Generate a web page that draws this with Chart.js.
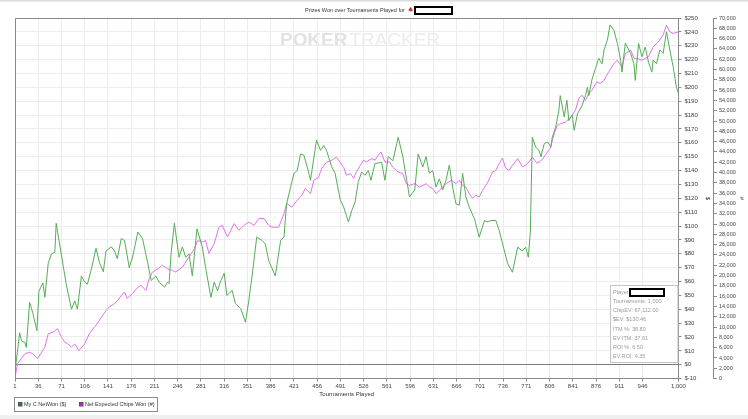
<!DOCTYPE html>
<html>
<head>
<meta charset="utf-8">
<script src="https://cdn.jsdelivr.net/npm/chart.js@4.4.1/dist/chart.umd.min.js"></script>
<style>
  html, body { margin: 0; padding: 0; background: #fff; }
  #wrap { width: 748px; height: 419px; position: relative; }
</style>
</head>
<body>
<div id="wrap"><canvas id="chart"></canvas></div>
<script>
// tournament numbers and values
const xTicks = [1, 36, 71, 106, 141, 176, 211, 246, 281, 316, 351, 386, 421, 456, 491, 526, 561, 596, 631, 666, 701, 736, 771, 806, 841, 876, 911, 946, 1000];

const netWonT = [1, 8, 11, 16, 18, 23, 28, 34, 37, 43, 46, 51, 56, 61, 63, 78, 86, 91, 95, 101, 106, 110, 116, 123, 128, 134, 138, 146, 151, 155, 161, 166, 173, 178, 186, 193, 201, 206, 213, 218, 226, 231, 233, 236, 241, 248, 253, 258, 263, 268, 275, 283, 288, 296, 301, 306, 311, 316, 320, 328, 333, 341, 348, 353, 358, 365, 373, 378, 383, 393, 401, 406, 410, 416, 421, 426, 431, 436, 441, 446, 455, 461, 466, 470, 478, 483, 491, 496, 503, 508, 513, 518, 523, 528, 533, 537, 543, 553, 558, 563, 570, 578, 585, 595, 603, 608, 615, 620, 625, 630, 635, 640, 645, 650, 655, 660, 665, 670, 675, 680, 685, 693, 700, 708, 712, 718, 725, 730, 738, 743, 750, 758, 765, 770, 774, 777, 780, 785, 790, 793, 798, 803, 808, 810, 815, 820, 822, 828, 832, 835, 840, 843, 848, 855, 860, 863, 865, 870, 875, 880, 885, 888, 893, 897, 903, 908, 913, 915, 920, 928, 933, 935, 940, 945, 950, 955, 960, 962, 967, 972, 977, 982, 987, 992, 997, 1000];
const netWonV = [-5, 23, 17, 16, 12.5, 45, 37, 24.5, 53, 59, 48.6, 73, 80, 81, 102, 58.5, 40, 46, 40, 64, 59.5, 58, 69, 84, 74, 67, 82, 85, 82, 76.5, 91, 89.6, 70, 77.5, 95.6, 91, 73, 60.7, 64, 59.5, 56, 59.5, 58.5, 80, 102, 77.5, 85, 77.5, 80, 64, 98, 85, 70, 48.6, 59.5, 53.5, 60.7, 66, 50, 53.5, 44, 40.5, 30.6, 46, 64, 92, 89.6, 87, 75, 64, 89.6, 92, 116, 128, 138, 140, 152, 151, 142.6, 133, 162, 154.6, 158, 154.6, 142.6, 138, 118.5, 113.6, 103, 111, 117, 132, 139, 136.6, 140, 133, 145, 146, 133, 150, 147, 164, 150, 121, 126, 152, 142.6, 150, 138, 140, 128, 134, 126, 133, 144, 128, 116, 115, 138, 121, 113.6, 105, 92, 104, 103, 104, 104, 97, 82, 72.8, 66.7, 84.8, 82, 84.8, 77.5, 95.6, 164, 157, 154.6, 150, 159.5, 160.6, 157, 164, 171, 183.5, 194, 178.7, 190.7, 176, 180, 169, 181, 187, 194, 200, 194, 206, 213.6, 221, 217, 227, 234, 245, 241, 231.7, 219.6, 211, 232, 224.5, 217, 205, 231.7, 222, 229, 218, 211, 219.6, 217, 227, 224.5, 240, 227, 215, 200, 196];

const chipsT = [1, 5, 16, 23, 28, 35, 46, 51, 58, 65, 71, 76, 80, 86, 91, 97, 106, 113, 125, 131, 138, 143, 151, 156, 161, 166, 170, 178, 186, 191, 198, 203, 208, 216, 223, 231, 238, 243, 253, 263, 271, 276, 283, 288, 293, 301, 308, 313, 321, 326, 331, 338, 346, 353, 361, 368, 376, 383, 388, 398, 406, 410, 418, 426, 433, 438, 446, 451, 458, 463, 470, 478, 485, 496, 500, 506, 511, 515, 521, 526, 530, 538, 543, 548, 552, 558, 565, 570, 578, 585, 590, 595, 603, 610, 615, 620, 625, 630, 635, 640, 645, 650, 658, 665, 670, 675, 680, 685, 690, 695, 700, 705, 713, 720, 725, 730, 735, 740, 745, 750, 758, 765, 770, 775, 780, 787, 795, 800, 807, 813, 818, 823, 830, 838, 845, 850, 855, 860, 865, 870, 877, 882, 888, 895, 903, 908, 915, 920, 928, 933, 938, 945, 950, 955, 962, 970, 977, 982, 987, 992, 1000];
const chipsV = [250, 2900, 4860, 5100, 4800, 3900, 6100, 8700, 9000, 9700, 8000, 7060, 6800, 6100, 6750, 5440, 6750, 8750, 10700, 11900, 13200, 13900, 14600, 15200, 16100, 16800, 15550, 16500, 17750, 18100, 17100, 19400, 20700, 21300, 22000, 21300, 21000, 20700, 21600, 23600, 25200, 26800, 26500, 26800, 24300, 26200, 29400, 29750, 27500, 28800, 30100, 28800, 29750, 30400, 29750, 31050, 31100, 29750, 29400, 29400, 32000, 34000, 33300, 34600, 35600, 36900, 35900, 38500, 39100, 40800, 42000, 42400, 43000, 41000, 39500, 39800, 38900, 40100, 41400, 42400, 42050, 42700, 42400, 43350, 44000, 42050, 42050, 41000, 40100, 39800, 37850, 37500, 37850, 37200, 37500, 37850, 37200, 36900, 35900, 36500, 37200, 37850, 38500, 37850, 38500, 37500, 37200, 35900, 35000, 35600, 35250, 36500, 38150, 40100, 40400, 41700, 42800, 40800, 40400, 41400, 42700, 41100, 41400, 42050, 43000, 41800, 42500, 43500, 44700, 47600, 49200, 49500, 49800, 50800, 52100, 54400, 55000, 54000, 55350, 56000, 57600, 57300, 57900, 59550, 61200, 61800, 60500, 63100, 63800, 62200, 62150, 61800, 62150, 62500, 64400, 65400, 66700, 68600, 67300, 67000, 67300];

const statLines = ['Tournaments: 1,000', 'ChipEV: 67,112.00', '$EV: $130.46', 'ITM %: 38.80', 'EV ITM: 37.61', 'ROI %: 6.50', 'EV ROI: 4.35'];

const FONT = "'Liberation Sans', Arial, sans-serif";
const GRID = '#ececec';
const AXIS = '#8a8a8a';

function toPoints(ts, vs) {
    return ts.map((t, i) => ({ x: t, y: vs[i] }));
}

// page furniture: title, frame, watermark, stats box, legend
const decor = {
    id: 'decor',
    beforeDraw(chart) {
        const c = chart.ctx;
        c.save();
        c.fillStyle = '#fff';
        c.fillRect(0, 0, chart.width, chart.height);
        c.fillStyle = '#dcdcdc';
        c.fillRect(0, 0, chart.width, 1.5);
        c.fillStyle = '#efefef';
        c.fillRect(0, chart.height - 4, chart.width, 4);

        // title
        c.font = '5.5px ' + FONT;
        c.fillStyle = '#333';
        c.textBaseline = 'middle';
        const title = 'Prizes Won over Tournaments Played for';
        c.fillText(title, 305, 10.5);
        c.fillStyle = '#d8302a';
        c.font = '7px "DejaVu Sans"';
        c.fillText('\u2660', 407.5, 10.5);
        c.fillStyle = '#fff';
        c.fillRect(414, 6, 38, 8);
        c.strokeStyle = '#000';
        c.lineWidth = 2;
        c.strokeRect(415, 7, 37, 7);

        // watermark
        c.textBaseline = 'middle';
        c.font = 'bold 18px ' + FONT;
        const pw = c.measureText('POKER').width;
        c.font = '18px ' + FONT;
        const tw = c.measureText('TRACKER').width;
        const sx = 160 / (pw + tw + 2);
        c.translate(280, 41);
        c.scale(sx, 1);
        c.font = 'bold 18px ' + FONT;
        c.fillStyle = '#e2e2e2';
        c.fillText('POKER', 0, 0);
        c.font = '18px ' + FONT;
        c.fillStyle = '#ececec';
        c.fillText('TRACKER', pw + 2, 0);
        c.restore();
    },
    afterDraw(chart) {
        const c = chart.ctx;
        const a = chart.chartArea;
        c.save();
        // frame top and left
        c.strokeStyle = AXIS;
        c.lineWidth = 1;
        c.beginPath();
        c.moveTo(a.left + 0.5, a.bottom);
        c.lineTo(a.left + 0.5, a.top + 0.5);
        c.lineTo(a.right, a.top + 0.5);
        c.stroke();

        // stats box
        const bx = 610.5, by = 285.5, bw = a.right - 611, bh = 77;
        c.fillStyle = '#fff';
        c.fillRect(bx, by, bw, bh);
        c.strokeStyle = '#c4c4c4';
        c.strokeRect(bx, by, bw, bh);
        c.font = '5.5px ' + FONT;
        c.fillStyle = '#9a9a9a';
        c.textBaseline = 'middle';
        c.fillText('Player:', 613, 292);
        c.fillStyle = '#fff';
        c.fillRect(629, 288, 36, 9);
        c.strokeStyle = '#000';
        c.lineWidth = 2;
        c.strokeRect(630, 289, 34, 7);
        c.fillStyle = '#9a9a9a';
        statLines.forEach((s, i) => c.fillText(s, 613, 301.5 + i * 9.2));

        // legend
        c.lineWidth = 1;
        c.strokeStyle = '#8c8c8c';
        c.strokeRect(14.5, 397.5, 143, 14);
        const items = [
            { x: 18, fill: '#1b8c1b', text: chart.data.datasets[0].label },
            { x: 79, fill: '#d01cd0', text: chart.data.datasets[1].label }
        ];
        c.font = '5.5px ' + FONT;
        items.forEach(it => {
            c.fillStyle = it.fill;
            c.fillRect(it.x, 402, 4, 4);
            c.strokeStyle = '#555';
            c.strokeRect(it.x + 0.5, 402.5, 3.5, 3.5);
            c.fillStyle = '#333';
            c.fillText(it.text, it.x + 6, 404.5);
        });
        c.restore();
    }
};

new Chart(document.getElementById('chart'), {
    type: 'line',
    data: {
        datasets: [
            {
                label: 'My C NetWon ($)',
                data: toPoints(netWonT, netWonV),
                yAxisID: 'y',
                borderColor: '#55ad55',
                borderWidth: 1,
                pointRadius: 0,
                tension: 0
            },
            {
                label: 'Net Expected Chips Won (#)',
                data: toPoints(chipsT, chipsV),
                yAxisID: 'y1',
                borderColor: '#e272ec',
                borderWidth: 1,
                pointRadius: 0,
                tension: 0
            }
        ]
    },
    options: {
        responsive: true,
        maintainAspectRatio: false,
        animation: false,
        layout: { padding: { left: 15, top: 18, right: 0, bottom: 21 } },
        plugins: {
            legend: { display: false },
            tooltip: { enabled: false }
        },
        scales: {
            x: {
                type: 'linear',
                min: 1,
                max: 1000,
                afterBuildTicks: s => { s.ticks = xTicks.map(v => ({ value: v })); },
                ticks: {
                    autoSkip: false,
                    maxRotation: 0,
                    padding: 1,
                    color: '#444',
                    font: { size: 6, family: FONT },
                    callback: v => v.toLocaleString('en-US')
                },
                grid: { color: GRID, tickColor: AXIS, tickLength: 3 },
                border: { color: AXIS },
                title: {
                    display: true,
                    text: 'Tournaments Played',
                    color: '#333',
                    font: { size: 6, family: FONT },
                    padding: { top: 0, bottom: 0 }
                }
            },
            y: {
                position: 'right',
                weight: 0,
                min: -10,
                max: 250,
                ticks: {
                    stepSize: 10,
                    padding: 3,
                    color: '#444',
                    font: { size: 6, family: FONT },
                    callback: v => '$' + v
                },
                grid: {
                    color: ctx => (ctx.tick && ctx.tick.value === 0 ? '#7a7a7a' : GRID),
                    tickColor: AXIS,
                    tickLength: 3
                },
                border: { color: AXIS },
                title: {
                    display: true,
                    text: '$',
                    color: '#333',
                    font: { size: 6, family: FONT },
                    padding: { top: 3, bottom: 3 }
                }
            },
            y1: {
                position: 'right',
                weight: 1,
                min: 0,
                max: 70000,
                ticks: {
                    stepSize: 2000,
                    padding: 2,
                    color: '#444',
                    font: { size: 5.5, family: FONT },
                    callback: v => v.toLocaleString('en-US')
                },
                grid: { drawOnChartArea: false, tickColor: AXIS, tickLength: 3 },
                border: { color: AXIS },
                title: {
                    display: true,
                    text: '#',
                    color: '#333',
                    font: { size: 6, family: FONT },
                    padding: { top: 3, bottom: 0 }
                }
            }
        }
    },
    plugins: [decor]
});
</script>
</body>
</html>
